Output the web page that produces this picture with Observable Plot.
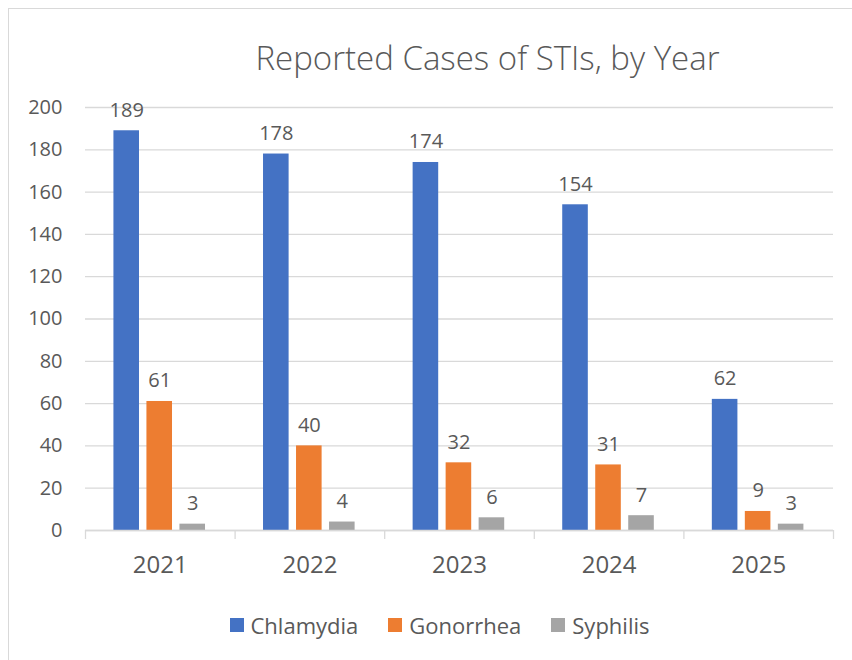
<!DOCTYPE html>
<html>
<head>
<meta charset="utf-8">
<script src="https://cdn.jsdelivr.net/npm/d3@7"></script>
<script src="https://cdn.jsdelivr.net/npm/@observablehq/plot@0.6"></script>
<style>
  html, body { margin: 0; padding: 0; background: #fff; }
  body { width: 852px; height: 660px; position: relative; overflow: hidden; font-family: "Open Sans", "Noto Sans", sans-serif; color: #595959; }
  #frame { position: absolute; left: 8px; top: 8px; width: 860px; height: 680px; border: 1px solid #d9d9d9; box-sizing: border-box; }
  #title { position: absolute; top: 35px; left: 0; width: 975px; text-align: center; font-size: 33px; font-weight: 300; line-height: 46px; white-space: nowrap; }
  #chart { position: absolute; left: 0; top: 0; }
  #legend { position: absolute; top: 609px; left: 0; width: 879px; display: flex; justify-content: center; gap: 30px; font-size: 22px; line-height: 32px; }
  .item { display: flex; align-items: center; gap: 7px; }
  .sw { width: 14px; height: 14px; display: inline-block; }
</style>
</head>
<body>
<div id="frame"></div>
<div id="chart"></div>
<div id="title">Reported Cases of STIs, by Year</div>
<div id="legend"></div>
<script>
const years = ["2021", "2022", "2023", "2024", "2025"];
const seriesNames = ["Chlamydia", "Gonorrhea", "Syphilis"];
const chlamydia = [189, 178, 174, 154, 62];
const gonorrhea = [61, 40, 32, 31, 9];
const syphilis = [3, 4, 6, 7, 3];
const colors = ["#4472C4", "#ED7D31", "#A5A5A5"];
const yTicks = [0, 20, 40, 60, 80, 100, 120, 140, 160, 180, 200];

const seriesValues = [chlamydia, gonorrhea, syphilis];

// group layout (fractions of one year band)
const outerPad = 0.19, step = 0.2206, barW = 0.171;

const rows = [];
years.forEach((yr, gi) => {
  seriesNames.forEach((s, si) => {
    const x1 = gi + outerPad + si * step;
    rows.push({year: yr, series: s, value: seriesValues[si][gi], x1, x2: x1 + barW, xc: x1 + barW / 2});
  });
});

const bounds = d3.range(years.length + 1);
const centers = years.map((_, i) => i + 0.5);

const plot = Plot.plot({
  width: 852,
  height: 600,
  marginLeft: 85,
  marginRight: 19,
  marginTop: 107,
  marginBottom: 70,
  style: {fontFamily: '"Open Sans", "Noto Sans", sans-serif', color: "#595959", background: "transparent", overflow: "visible"},
  x: {type: "linear", domain: [0, years.length], axis: null},
  y: {domain: [0, 200], axis: null},
  color: {domain: seriesNames, range: colors},
  marks: [
    Plot.gridY({ticks: yTicks, stroke: "#d9d9d9", strokeOpacity: 1, strokeWidth: 1.3}),
    Plot.axisY({ticks: yTicks, tickSize: 0, tickPadding: 23, fontSize: 20, fill: "#595959", label: null}),
    Plot.rectY(rows, {x1: "x1", x2: "x2", y1: 0, y2: "value", fill: "series"}),
    Plot.ruleY([0], {stroke: "#d9d9d9", strokeWidth: 1.3}),
    Plot.axisX({ticks: bounds, tickSize: 9, tickFormat: () => "", stroke: "#d9d9d9", strokeWidth: 1.3, label: null}),
    Plot.axisX({ticks: centers, tickSize: 0, tickPadding: 25, fontSize: 24, fill: "#595959", tickFormat: d => years[Math.floor(d)], label: null}),
    Plot.text(rows, {x: "xc", y: "value", text: d => String(d.value), dy: -14, lineAnchor: "bottom", fontSize: 20, fill: "#595959"})
  ]
});
document.getElementById("chart").appendChild(plot);

const legend = document.getElementById("legend");
seriesNames.forEach((s, i) => {
  const item = document.createElement("div");
  item.className = "item";
  const sw = document.createElement("span");
  sw.className = "sw";
  sw.style.background = colors[i];
  const t = document.createElement("span");
  t.textContent = s;
  item.appendChild(sw);
  item.appendChild(t);
  legend.appendChild(item);
});
</script>
</body>
</html>
